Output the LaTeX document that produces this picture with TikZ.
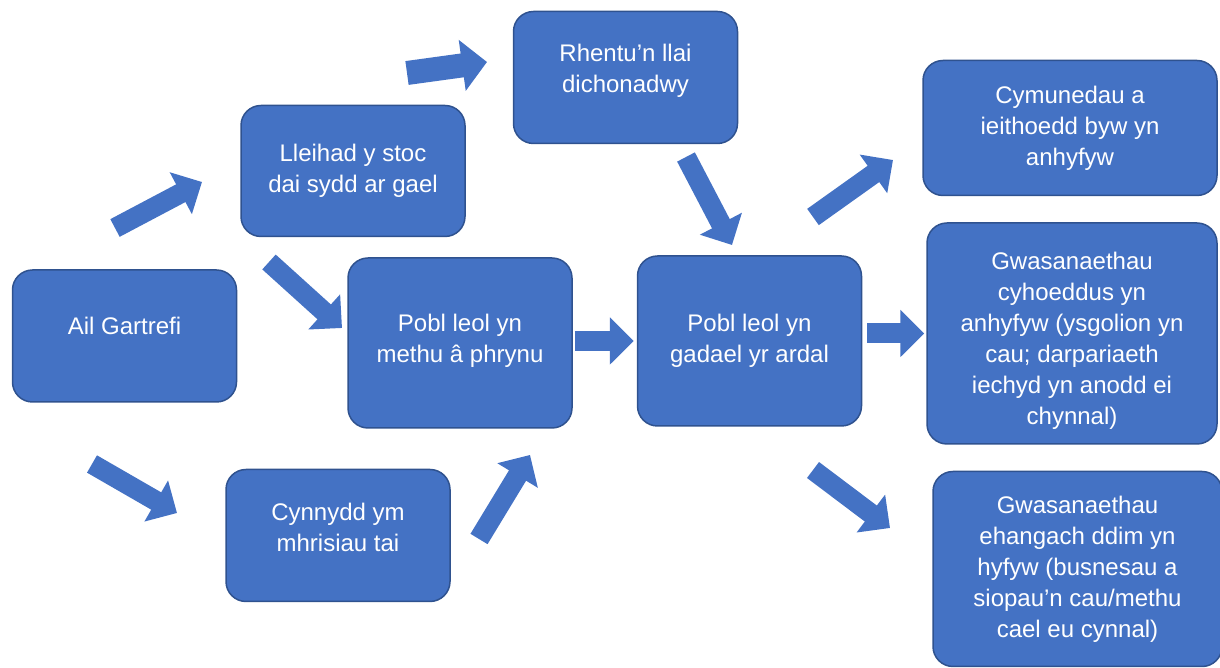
\documentclass[tikz,border=0pt]{standalone}
\usepackage{fontspec}
\setmainfont{Liberation Sans}
\usepackage{tikz}
\usetikzlibrary{positioning}
\usetikzlibrary{arrows.meta}
\definecolor{boxblue}{HTML}{4472C4}
\definecolor{edgeblue}{HTML}{2F528F}
\tikzset{>={Triangle[length=24pt,width=46pt]}}

\begin{document}
\begin{tikzpicture}[x=1pt, y=1pt, box/.style={rounded corners=20pt, draw=edgeblue, line width=1.5pt, fill=boxblue, text=white, align=center, font=\fontsize{24}{31}\selectfont, minimum width=224pt, minimum height=132pt, inner sep=0pt}, blockarrow/.style={->, draw=boxblue, line width=20pt}]
    \useasboundingbox (0,0) rectangle (1220,668);

    %Nodes
    \node[box](ail) at (124.5,332){Ail Gartrefi\\[-11pt]};
    \node[box, minimum height=131pt](lleihad)[above right=32pt and 3pt of ail]{Lleihad y stoc\\dai sydd ar gael\\[-25pt]};
    \node[box](cynnydd)[below right=66pt and -12pt of ail]{Cynnydd ym\\mhrisiau tai\\[-15pt]};
    \node[box, minimum height=170pt](methu)[right=110pt of ail, yshift=-7pt]{Pobl leol yn\\methu â phrynu\\[-22pt]};
    \node[box, minimum height=170pt](gadael)[right=64pt of methu, yshift=2pt]{Pobl leol yn\\gadael yr ardal\\[-25pt]};
    \node[box](rhentu)[above=111pt of gadael, xshift=-124pt]{Rhentu’n llai\\dichonadwy\\[-13pt]};
    \node[box, minimum width=294pt, minimum height=135pt](cymunedau)[above right=59pt and 60pt of gadael]{Cymunedau a\\ieithoedd byw yn\\anhyfyw};
    \node[box, minimum width=290pt, minimum height=221pt](cyhoeddus)[right=64pt of gadael, yshift=7.5pt]{\rule{0pt}{31pt}Gwasanaethau\\cyhoeddus yn\\anhyfyw (ysgolion yn\\cau; darpariaeth\\iechyd yn anodd ei\\chynnal)};
    \node[box, minimum width=289pt, minimum height=195pt](ehangach)[below right=44pt and 70pt of gadael]{Gwasanaethau\\ehangach ddim yn\\hyfyw (busnesau a\\siopau’n cau/methu\\cael eu cynnal)};

    %Arrow ends
    \coordinate (ail_up) at (115,440);
    \coordinate (lleihad_in) at (202,486);
    \coordinate (lleihad_up) at (407,595);
    \coordinate (rhentu_in) at (487,606);
    \coordinate (lleihad_down) at (269,406);
    \coordinate (methu_in) at (342,340);
    \coordinate (ail_down) at (92,204);
    \coordinate (cynnydd_in) at (177,155);
    \coordinate (cynnydd_up) at (479,129);
    \coordinate (methu_in2) at (530,213);
    \coordinate (rhentu_down) at (686,511);
    \coordinate (gadael_in) at (732,423);
    \coordinate (gadael_up) at (813,451);
    \coordinate (cymunedau_in) at (893,508);
    \coordinate (gadael_down) at (813,198);
    \coordinate (ehangach_in) at (890,140);

    %Arrows
    \draw[blockarrow] (ail_up) -- (lleihad_in);
    \draw[blockarrow, line width=24pt, -{Triangle[length=25pt,width=50pt]}] (lleihad_up) -- (rhentu_in);
    \draw[blockarrow] (lleihad_down) -- (methu_in);
    \draw[blockarrow] (ail_down) -- (cynnydd_in);
    \draw[blockarrow] (cynnydd_up) -- (methu_in2);
    \draw[blockarrow] (rhentu_down) -- (gadael_in);
    \draw[blockarrow, shorten <=2pt, shorten >=3pt] (methu.east |- gadael) -- (gadael.west);
    \draw[blockarrow] (gadael_up) -- (cymunedau_in);
    \draw[blockarrow, shorten <=5pt, shorten >=2pt] (gadael.east |- cyhoeddus) -- (cyhoeddus.west);
    \draw[blockarrow] (gadael_down) -- (ehangach_in);

    \end{tikzpicture}
\end{document}
